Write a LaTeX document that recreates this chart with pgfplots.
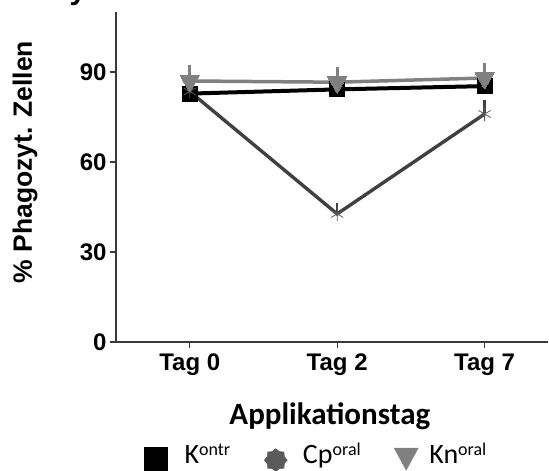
\documentclass[border=0pt]{standalone}
\usepackage{pgfplots}
\pgfplotsset{compat=1.18}
\usepackage{fontspec}
\setmainfont{Liberation Sans}
\newfontfamily\carlito{Carlito}

\definecolor{kn}{HTML}{808080}
\definecolor{cp}{HTML}{404040}
\definecolor{cpmark}{HTML}{5A5A5A}
\definecolor{axisgray}{HTML}{3A3A3A}

% superscript group label in the key
\newcommand{\grp}[1]{\raisebox{8pt}{\fontsize{18}{18}\selectfont #1}}
% fixed-width key text
\newcommand{\keytext}[2]{\makebox[#1][l]{#2}}

\begin{document}
\begin{tikzpicture}
\begin{axis}[
  at={(116pt,129pt)}, anchor=south west,
  scale only axis, width=432pt, height=330pt,
  xmin=-0.5, xmax=2.43, ymin=0, ymax=110,
  axis x line=bottom, axis y line=left,
  axis line style={-, line width=1.3pt, color=axisgray},
  xtick={0,1,2}, xticklabels={Tag 0,Tag 2,Tag 7},
  ytick={0,30,60,90},
  tick align=outside, major tick length=6pt,
  tick style={line width=1.3pt, color=axisgray},
  ticklabel style={font=\bfseries\fontsize{24}{26}\selectfont},
  xticklabel style={yshift=-2pt},
  /pgf/number format/assume math mode=true,
  ylabel={\% Phagozyt. Zellen},
  ylabel style={font=\bfseries\fontsize{26.5}{28}\selectfont,
    at={(axis description cs:-0.2106,0.545)}, anchor=center},
  xlabel={Applikationstag},
  xlabel style={font=\carlito\bfseries\fontsize{31}{33}\selectfont,
    at={(axis description cs:0.495,-0.2485)}, anchor=base},
  legend columns=3,
  legend style={at={(axis description cs:0.0648,-0.355)}, anchor=west,
    draw=none, fill=none, inner sep=0pt,
    font=\carlito\fontsize{28}{30}\selectfont,
    nodes={inner sep=0pt, text height=18pt, text depth=9pt},
    /tikz/every even column/.append style={column sep=0pt}},
  legend cell align=left,
]

% Kontrolle
\addplot[black, line width=4pt, mark=square*, mark size=7.5pt,
  mark options={solid, line width=0pt}, forget plot]
  coordinates {(0,82.8) (1,84.2) (2,85.3)};

% Cp oral
\addplot[cp, line width=3.4pt, mark=asterisk, mark size=7pt,
  mark options={cpmark, line width=0.8pt}, forget plot,
  error bars/.cd, y dir=plus, y explicit,
  error bar style={cp, line width=2.5pt},
  error mark options={cp, line width=2.5pt, mark size=4pt}]
  coordinates {(0,83.5) +- (0,0.8) (1,42.7) +- (0,2.4) (2,76.0) +- (0,3.2)};

% Kn oral
\addplot[kn, line width=3.5pt, mark=triangle*, mark size=11pt,
  mark options={rotate=180, line width=0pt, fill=kn}, forget plot,
  error bars/.cd, y dir=plus, y explicit,
  error bar style={kn, line width=3pt},
  error mark options={kn, line width=3pt, mark size=3.5pt}]
  coordinates {(0,87.0) +- (0,4.0) (1,86.6) +- (0,3.8) (2,88.0) +- (0,3.7)};

\addlegendimage{legend image code/.code={
  \fill[black] (0pt,-11.5pt) rectangle (23pt,11.5pt);
  \path (0pt,0pt) (40pt,0pt);}}
\addlegendentry{\keytext{79pt}{K\grp{ontr}}}
\addlegendimage{legend image code/.code={
  \fill[cpmark, shift={(12pt,-1pt)}]
    (0:11.5pt) -- (22.5:9.3pt) -- (45:11.5pt) -- (67.5:9.3pt) --
    (90:11.5pt) -- (112.5:9.3pt) -- (135:11.5pt) -- (157.5:9.3pt) --
    (180:11.5pt) -- (202.5:9.3pt) -- (225:11.5pt) -- (247.5:9.3pt) --
    (270:11.5pt) -- (292.5:9.3pt) -- (315:11.5pt) -- (337.5:9.3pt) -- cycle;
  \path (0pt,0pt) (39pt,0pt);}}
\addlegendentry{\keytext{91pt}{Cp\grp{oral}}}
\addlegendimage{legend image code/.code={
  \fill[kn] (0pt,11pt) -- (24pt,11pt) -- (12pt,-11pt) -- cycle;
  \path (0pt,0pt) (35pt,0pt);}}
\addlegendentry{Kn\grp{oral}}
\end{axis}

% descender of the panel letter above the frame
\node[font=\bfseries\fontsize{30}{30}\selectfont, anchor=base, inner sep=0pt]
  at (78pt,471pt) {y};

\pgfresetboundingbox
\useasboundingbox (0pt,0pt) rectangle (549pt,471pt);
\end{tikzpicture}
\end{document}
